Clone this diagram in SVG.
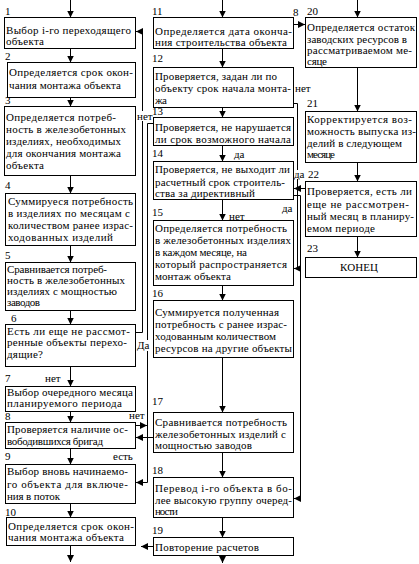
<svg xmlns="http://www.w3.org/2000/svg" width="419" height="564" viewBox="0 0 419 564">
<style>
.b{fill:#fff;stroke:#000;stroke-width:1}
.c{fill:none;stroke:#000;stroke-width:1}
.k{fill:#fff}
text{font-family:"Liberation Serif","Times New Roman",serif;font-size:11px;fill:#000}
</style>
<defs>
<marker id="a" markerUnits="userSpaceOnUse" markerWidth="7" markerHeight="7" refX="7" refY="3.5" orient="auto">
<path d="M0,0 L7,3.5 L0,7 z" fill="#000"/>
</marker>
</defs>
<rect width="419" height="564" fill="#fff"/>
<g id="connectors">
<path class="c" d="M70.5,0 V17.5" marker-end="url(#a)"/>
<path class="c" d="M70.5,48.5 V62.5" marker-end="url(#a)"/>
<path class="c" d="M70.5,97.5 V106.5" marker-end="url(#a)"/>
<path class="c" d="M70.5,175.5 V193.5" marker-end="url(#a)"/>
<path class="c" d="M70.5,245.5 V262.5" marker-end="url(#a)"/>
<path class="c" d="M70.5,310.5 V324.5" marker-end="url(#a)"/>
<path class="c" d="M70.5,366.5 V386.5" marker-end="url(#a)"/>
<path class="c" d="M70.5,411.5 V422.5" marker-end="url(#a)"/>
<path class="c" d="M70.5,448.5 V464.5" marker-end="url(#a)"/>
<path class="c" d="M70.5,503.5 V517.5" marker-end="url(#a)"/>
<path class="c" d="M70.5,545.5 V562" marker-end="url(#a)"/>
<path class="c" d="M222.5,0 V17.5" marker-end="url(#a)"/>
<path class="c" d="M222.5,48.5 V67.5" marker-end="url(#a)"/>
<path class="c" d="M222.5,107.5 V117.5" marker-end="url(#a)"/>
<path class="c" d="M222.5,145.5 V161.5" marker-end="url(#a)"/>
<path class="c" d="M222.5,199.5 V220.5" marker-end="url(#a)"/>
<path class="c" d="M222.5,285.5 V300.5" marker-end="url(#a)"/>
<path class="c" d="M222.5,357.5 V412.5" marker-end="url(#a)"/>
<path class="c" d="M222.5,452.5 V477.5" marker-end="url(#a)"/>
<path class="c" d="M222.5,517.5 V537.5" marker-end="url(#a)"/>
<path class="c" d="M222.5,555.5 V563" marker-end="url(#a)"/>
<path class="c" d="M357.5,0 V17.5" marker-end="url(#a)"/>
<path class="c" d="M357.5,67.5 V111.5" marker-end="url(#a)"/>
<path class="c" d="M357.5,162.5 V181.5" marker-end="url(#a)"/>
<path class="c" d="M357.5,236.5 V257.5" marker-end="url(#a)"/>
<path class="c" d="M135.5,332.5 H142.5 V31.5 H136" marker-end="url(#a)"/>
<path class="c" d="M153.5,123.5 H147.5 V482.5 H136" marker-end="url(#a)"/>
<path class="c" d="M135.5,425.5 H147" marker-end="url(#a)"/>
<path class="c" d="M153.5,437.5 H136" marker-end="url(#a)"/>
<path class="c" d="M153.5,546.5 H141" marker-end="url(#a)"/>
<path class="c" d="M293.5,24.5 H305" marker-end="url(#a)"/>
<path class="c" d="M293.5,103.5 H297.5 V268.5 H294" marker-end="url(#a)"/>
<path class="c" d="M293.5,195.5 H300.5 V498.5 H294" marker-end="url(#a)"/>
<path class="c" d="M305.5,188.5 H294" marker-end="url(#a)"/>
</g>
<g id="labels">
<rect class="k" x="137" y="111" width="16" height="10"/>
<text x="137" y="120">нет</text>
<rect class="k" x="137" y="340" width="14" height="11"/>
<text x="137" y="349">Да</text>
<text x="45" y="382">нет</text>
<text x="129" y="419">нет</text>
<text x="113" y="460">есть</text>
<text x="234" y="158">да</text>
<text x="229" y="220">нет</text>
<text x="282" y="212">да</text>
<rect class="k" x="294.5" y="170" width="10" height="9"/>
<text x="294" y="178">да</text>
<text x="295" y="92">нет</text>
<text x="293" y="16">8</text>
</g>
<g id="n1"><text x="5" y="15">1</text><rect class="b" x="4.5" y="17.5" width="131" height="31"/>
<text x="6" y="34" textLength="125">Выбор i-го переходящего</text><text x="6" y="45" textLength="38">объекта</text></g>
<g id="n2"><text x="5" y="60">2</text><rect class="b" x="7.5" y="62.5" width="128" height="35"/>
<text x="9" y="76" textLength="124">Определяется срок окон-</text><text x="9" y="89" textLength="112">чания монтажа объекта</text></g>
<g id="n3"><text x="5" y="104">3</text><rect class="b" x="4.5" y="106.5" width="131" height="69"/>
<text x="6" y="121" textLength="110">Определяется потреб-</text><text x="6" y="133" textLength="120">ность в железобетонных</text><text x="6" y="145" textLength="115">изделиях, необходимых</text><text x="6" y="157" textLength="115">для окончания монтажа</text><text x="6" y="169" textLength="38">объекта</text></g>
<g id="n4"><text x="5" y="189">4</text><rect class="b" x="5.5" y="193.5" width="130" height="52"/>
<text x="8" y="205" textLength="125">Суммируеся потребность</text><text x="8" y="217" textLength="122">в изделиях по месяцам с</text><text x="8" y="229" textLength="125">количеством ранее израс-</text><text x="8" y="241" textLength="105">ходованных изделий</text></g>
<g id="n5"><text x="5" y="259">5</text><rect class="b" x="5.5" y="262.5" width="130" height="48"/>
<text x="7" y="273" textLength="100">Сравнивается потреб-</text><text x="7" y="284" textLength="118">ность в железобетонных</text><text x="7" y="295" textLength="110">изделиях с мощностью</text><text x="7" y="306" textLength="33">заводов</text></g>
<g id="n6"><text x="11" y="322">6</text><rect class="b" x="5.5" y="324.5" width="130" height="42"/>
<text x="7" y="335" textLength="123">Есть ли еще не рассмот-</text><text x="7" y="346" textLength="120">ренные объекты перехо-</text><text x="7" y="358" textLength="36">дящие?</text></g>
<g id="n7"><text x="5" y="382">7</text><rect class="b" x="5.5" y="386.5" width="130" height="25"/>
<text x="7" y="396" textLength="126">Выбор очередного месяца</text><text x="7" y="407" textLength="115">планируемого периода</text></g>
<g id="n8"><text x="5" y="420">8</text><rect class="b" x="5.5" y="422.5" width="130" height="26"/>
<text x="7" y="433" textLength="121">Проверяется наличие ос-</text><text x="7" y="445" textLength="96">вободившихся бригад</text></g>
<g id="n9"><text x="5" y="460">9</text><rect class="b" x="5.5" y="464.5" width="130" height="39"/>
<text x="7" y="475" textLength="121">Выбор вновь начинаемо-</text><text x="7" y="488" textLength="121">го объекта для включе-</text><text x="7" y="500" textLength="53">ния в поток</text></g>
<g id="n10"><text x="5" y="516">10</text><rect class="b" x="6.5" y="517.5" width="129" height="28"/>
<text x="8" y="530" textLength="126">Определяется срок окон-</text><text x="8" y="541" textLength="116">чания монтажа объекта</text></g>
<g id="n11"><text x="152" y="15">11</text><rect class="b" x="153.5" y="17.5" width="140" height="31"/>
<text x="155" y="35" textLength="137">Определяется дата оконча-</text><text x="155" y="46" textLength="132">ния строительства объекта</text></g>
<g id="n12"><text x="152" y="62">12</text><rect class="b" x="153.5" y="67.5" width="140" height="40"/>
<text x="155" y="80" textLength="122">Проверяется, задан ли по</text><text x="155" y="92" textLength="136">объекту срок начала монта-</text><text x="155" y="104" textLength="12">жа</text></g>
<g id="n13"><text x="152" y="115">13</text><rect class="b" x="153.5" y="117.5" width="140" height="28"/>
<text x="155" y="131" textLength="136">Проверяется, не нарушается</text><text x="155" y="143" textLength="136">ли срок возможного начала</text></g>
<g id="n14"><text x="152" y="157">14</text><rect class="b" x="153.5" y="161.5" width="140" height="38"/>
<text x="155" y="173" textLength="135">Проверяется, не выходит ли</text><text x="155" y="186" textLength="130">расчетный срок строитель-</text><text x="155" y="197" textLength="100">ства за директивный</text></g>
<g id="n15"><text x="152" y="216">15</text><rect class="b" x="153.5" y="220.5" width="140" height="65"/>
<text x="155" y="232" textLength="132">Определяется потребность</text><text x="155" y="244" textLength="136">в железобетонных изделиях</text><text x="155" y="256" textLength="92">в каждом месяце, на</text><text x="155" y="268" textLength="132">который распространяется</text><text x="155" y="280" textLength="76">монтаж объекта</text></g>
<g id="n16"><text x="152" y="297">16</text><rect class="b" x="153.5" y="300.5" width="140" height="57"/>
<text x="155" y="316" textLength="124">Суммируется полученная</text><text x="155" y="328" textLength="132">потребность с ранее израс-</text><text x="155" y="340" textLength="121">ходованным количеством</text><text x="155" y="352" textLength="137">ресурсов на другие объекты</text></g>
<g id="n17"><text x="152" y="405">17</text><rect class="b" x="153.5" y="412.5" width="140" height="40"/>
<text x="155" y="426" textLength="132">Сравнивается потребность</text><text x="155" y="438" textLength="131">железобетонных изделий с</text><text x="155" y="449" textLength="97">мощностью заводов</text></g>
<g id="n18"><text x="152" y="474">18</text><rect class="b" x="153.5" y="477.5" width="140" height="40"/>
<text x="155" y="492" textLength="137">Перевод i-го объекта в бо-</text><text x="155" y="504" textLength="137">лее высокую группу очеред-</text><text x="155" y="515" textLength="23">ности</text></g>
<g id="n19"><text x="152" y="534">19</text><rect class="b" x="153.5" y="537.5" width="140" height="18"/>
<text x="155" y="551" textLength="104">Повторение расчетов</text></g>
<g id="n20"><text x="307" y="15">20</text><rect class="b" x="305.5" y="17.5" width="111" height="50"/>
<text x="307" y="31" textLength="108">Определяется остаток</text><text x="307" y="43" textLength="100">заводских ресурсов в</text><text x="307" y="54" textLength="105">рассматриваемом ме-</text><text x="307" y="65" textLength="20">сяце</text></g>
<g id="n21"><text x="307" y="107">21</text><rect class="b" x="305.5" y="111.5" width="111" height="51"/>
<text x="307" y="123" textLength="105">Корректируется воз-</text><text x="307" y="135" textLength="109">можность выпуска из-</text><text x="307" y="147" textLength="95">делий в следующем</text><text x="307" y="158" textLength="28">месяце</text></g>
<g id="n22"><text x="308" y="178">22</text><rect class="b" x="305.5" y="181.5" width="111" height="55"/>
<text x="307" y="195" textLength="105">Проверяется, есть ли</text><text x="307" y="208" textLength="102">еще не рассмотрен-</text><text x="307" y="220" textLength="107">ный месяц в планиру-</text><text x="307" y="232" textLength="68">емом периоде</text></g>
<g id="n23"><text x="307" y="252">23</text><rect class="b" x="305.5" y="257.5" width="111" height="20"/>
<text x="359" y="271" text-anchor="middle" textLength="38">КОНЕЦ</text></g>
</svg>
